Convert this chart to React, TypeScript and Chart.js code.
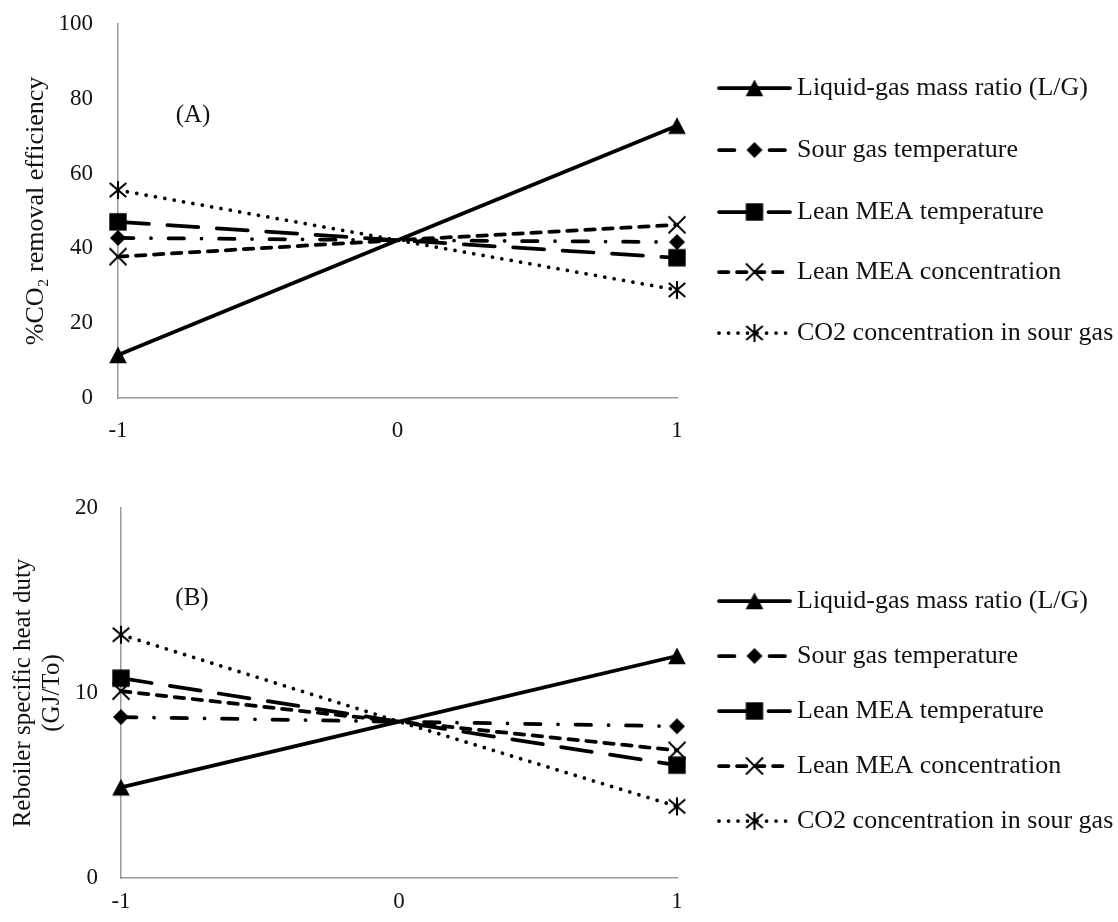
import React, { useEffect, useRef } from 'react';
import { Chart, registerables } from 'chart.js';

Chart.register(...registerables);

const FONT = '"Liberation Serif", "Times New Roman", serif';
const TEXT = '#111111';
const AXIS = '#999999';

// factor levels (coded)
const factorLevels = [-1, 0, 1];

const seriesLabels = [
  'Liquid-gas mass ratio (L/G)',
  'Sour gas temperature',
  'Lean MEA temperature',
  'Lean MEA concentration',
  'CO2 concentration in sour gas',
];

// Panel A: %CO2 removal efficiency
const removalLG = [11.5, 42.2, 72.8];
const removalSourTemp = [42.8, 42.2, 41.7];
const removalLeanTemp = [47.1, 42.2, 37.5];
const removalLeanConc = [37.8, 42.2, 46.3];
const removalCO2 = [55.6, 42.2, 28.9];

// Panel B: reboiler specific heat duty (GJ/To)
const dutyLG = [4.9, 8.45, 12.0];
const dutySourTemp = [8.7, 8.45, 8.2];
const dutyLeanTemp = [10.8, 8.45, 6.1];
const dutyLeanConc = [10.1, 8.45, 6.9];
const dutyCO2 = [13.15, 8.45, 3.87];

const removalAxis = { min: 0, max: 100, step: 20 };
const dutyAxis = { min: 0, max: 20, step: 10 };

const seriesStyles = [
  { marker: 'triangle', dash: [] as number[] },
  { marker: 'diamond', dash: [15.5, 17.5, 0.01, 17.5] },
  { marker: 'square', dash: [31, 18.5] },
  { marker: 'x', dash: [9.5, 8.5] },
  { marker: 'asterisk', dash: [0.01, 9.5] },
];

const LINE_W = 3.75;
const LEG_X1 = 719;
const LEG_X2 = 790;
const LEG_TEXT_X = 797;

function makeMarker(kind: string): HTMLCanvasElement {
  const c = document.createElement('canvas');
  const s = 24;
  c.width = s;
  c.height = s;
  const g = c.getContext('2d')!;
  const m = s / 2;
  g.fillStyle = '#000';
  g.strokeStyle = '#000';
  g.beginPath();
  if (kind === 'triangle') {
    g.moveTo(m, m - 8.5);
    g.lineTo(m + 8.8, m + 8.2);
    g.lineTo(m - 8.8, m + 8.2);
    g.closePath();
    g.fill();
  } else if (kind === 'diamond') {
    g.moveTo(m, m - 8);
    g.lineTo(m + 8, m);
    g.lineTo(m, m + 8);
    g.lineTo(m - 8, m);
    g.closePath();
    g.fill();
  } else if (kind === 'square') {
    g.fillRect(m - 8.7, m - 8.7, 17.4, 17.4);
  } else if (kind === 'x') {
    g.lineWidth = 1.9;
    g.moveTo(m - 8.5, m - 8.5);
    g.lineTo(m + 8.5, m + 8.5);
    g.moveTo(m + 8.5, m - 8.5);
    g.lineTo(m - 8.5, m + 8.5);
    g.stroke();
  } else {
    g.lineWidth = 2.1;
    g.moveTo(m, m - 9);
    g.lineTo(m, m + 9);
    g.moveTo(m - 8.3, m - 7);
    g.lineTo(m + 8.3, m + 7);
    g.moveTo(m + 8.3, m - 7);
    g.lineTo(m - 8.3, m + 7);
    g.stroke();
  }
  return c;
}

type PanelProps = {
  top: number;
  height: number;
  area: { left: number; top: number; right: number; bottom: number };
  series: number[][];
  axis: { min: number; max: number; step: number };
  yTitle: string | string[];
  titleSize: number;
  titleLineHeight: number;
  titlePad: number;
  yTickPad: number;
  xTickPad: number;
  tag: string;
  tagPos: [number, number];
  legendYs: number[];
};

function Panel(p: PanelProps) {
  const ref = useRef<HTMLCanvasElement>(null);
  useEffect(() => {
    const canvas = ref.current!;
    const markers = seriesStyles.map((s) => makeMarker(s.marker));
    const datasets = p.series.map((vals, i) => ({
      label: seriesLabels[i],
      data: factorLevels.map((x, j) => ({ x, y: vals[j] })),
      borderColor: '#000',
      backgroundColor: '#000',
      borderWidth: LINE_W,
      borderDash: seriesStyles[i].dash,
      borderCapStyle: 'round',
      borderJoinStyle: 'round',
      pointStyle: markers[i],
      pointRadius: (c: any) => (c.raw && c.raw.x === 0 ? 0 : 9),
      pointHoverRadius: (c: any) => (c.raw && c.raw.x === 0 ? 0 : 9),
      tension: 0,
      clip: false,
    }));
    const overlay = {
      id: 'overlay',
      afterDatasetsDraw(chart: any) {
        const ctx = chart.ctx as CanvasRenderingContext2D;
        ctx.save();
        ctx.fillStyle = TEXT;
        ctx.textBaseline = 'middle';
        ctx.font = `25px ${FONT}`;
        ctx.textAlign = 'center';
        ctx.fillText(p.tag, p.tagPos[0], p.tagPos[1]);
        ctx.font = `26px ${FONT}`;
        p.legendYs.forEach((y, i) => {
          ctx.save();
          ctx.strokeStyle = '#000';
          ctx.lineWidth = LINE_W;
          ctx.lineCap = 'round';
          ctx.setLineDash(seriesStyles[i].dash);
          ctx.beginPath();
          ctx.moveTo(LEG_X1, y);
          ctx.lineTo(LEG_X2, y);
          ctx.stroke();
          ctx.restore();
          const mk = markers[i];
          ctx.drawImage(mk, (LEG_X1 + LEG_X2) / 2 - mk.width / 2, y - mk.height / 2);
          ctx.textAlign = 'left';
          ctx.fillText(seriesLabels[i], LEG_TEXT_X, y);
        });
        ctx.restore();
      },
    };
    const chart = new Chart(canvas, {
      type: 'line',
      data: { datasets: datasets as any },
      options: {
        responsive: false,
        animation: false,
        events: [],
        layout: { padding: { left: 0, top: p.area.top, right: 1118 - p.area.right, bottom: 0 } },
        plugins: { legend: { display: false }, tooltip: { enabled: false } },
        scales: {
          x: {
            type: 'linear',
            min: -1,
            max: 1,
            grid: { display: false, drawTicks: false },
            border: { display: true, color: AXIS, width: 1.5 },
            ticks: { stepSize: 1, padding: p.xTickPad, color: TEXT, font: { family: FONT, size: 23 } },
            afterFit: (s: any) => {
              s.height = p.height - p.area.bottom;
              s.paddingLeft = 0;
              s.paddingRight = 0;
            },
          },
          y: {
            type: 'linear',
            min: p.axis.min,
            max: p.axis.max,
            grid: { display: false, drawTicks: false },
            border: { display: true, color: AXIS, width: 1.5 },
            ticks: { stepSize: p.axis.step, padding: p.yTickPad, color: TEXT, font: { family: FONT, size: 23 } },
            title: {
              display: true,
              text: p.yTitle,
              color: TEXT,
              font: { family: FONT, size: p.titleSize, lineHeight: p.titleLineHeight },
              padding: { top: p.titlePad, bottom: 0 },
            },
            afterFit: (s: any) => {
              s.width = p.area.left;
              s.paddingTop = 0;
              s.paddingBottom = 0;
            },
          },
        },
      } as any,
      plugins: [overlay],
    });
    return () => chart.destroy();
  }, []);
  return (
    <canvas
      ref={ref}
      width={1118}
      height={p.height}
      style={{ position: 'absolute', left: 0, top: p.top, display: 'block' }}
    />
  );
}

export default function App() {
  return (
    <div style={{ position: 'absolute', left: 0, top: 0, width: 1118, height: 922, background: '#fff' }}>
      <Panel
        top={0}
        height={455}
        area={{ left: 118, top: 24, right: 677, bottom: 398 }}
        series={[removalLG, removalSourTemp, removalLeanTemp, removalLeanConc, removalCO2]}
        axis={removalAxis}
        yTitle="%CO₂ removal efficiency"
        titleSize={26}
        titleLineHeight={1.2}
        titlePad={21}
        yTickPad={25}
        xTickPad={19}
        tag="(A)"
        tagPos={[193, 115]}
        legendYs={[88, 150, 212, 272, 333]}
      />
      <Panel
        top={455}
        height={467}
        area={{ left: 121, top: 53, right: 677, bottom: 423 }}
        series={[dutyLG, dutySourTemp, dutyLeanTemp, dutyLeanConc, dutyCO2]}
        axis={dutyAxis}
        yTitle={['Reboiler specific heat duty', '(GJ/To)']}
        titleSize={25}
        titleLineHeight={1.16}
        titlePad={8.5}
        yTickPad={23}
        xTickPad={10}
        tag="(B)"
        tagPos={[192, 143]}
        legendYs={[146, 201, 256, 311, 366]}
      />
    </div>
  );
}
